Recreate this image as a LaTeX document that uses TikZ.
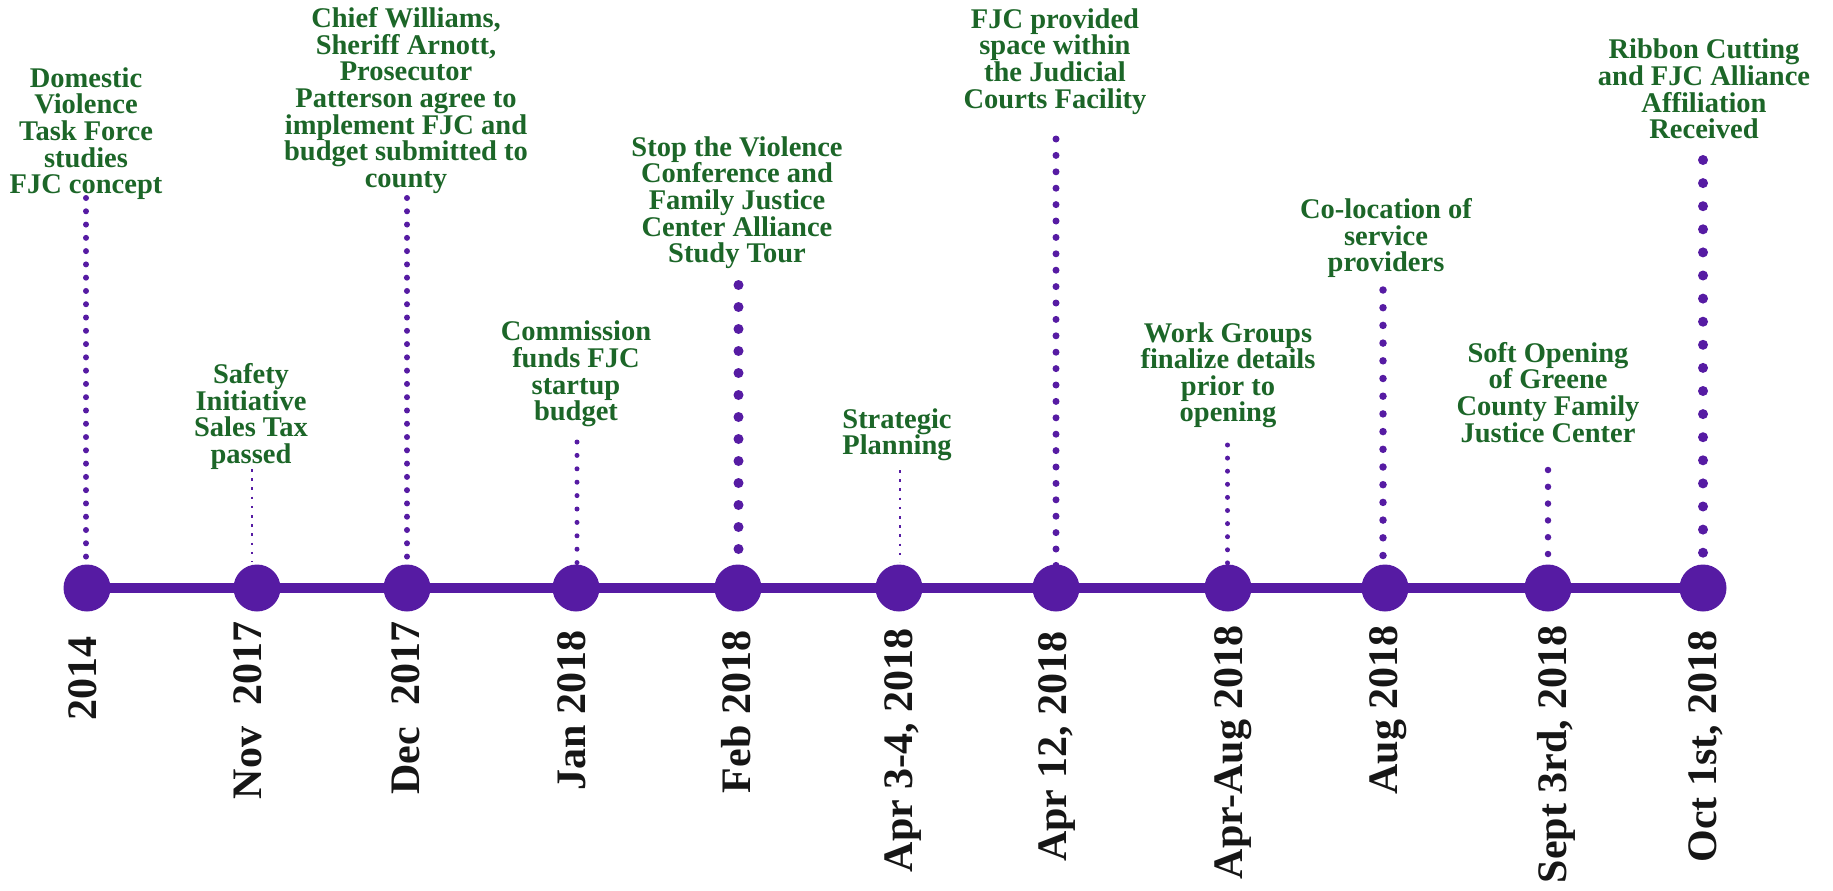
\documentclass[tikz,border=0pt]{standalone}
\usepackage{fontspec}
\setmainfont{Liberation Serif}
\usetikzlibrary{backgrounds}
\definecolor{tlpurple}{RGB}{86,27,163}
\definecolor{tlgreen}{RGB}{28,102,40}
\definecolor{tlblack}{RGB}{22,22,22}
\begin{document}
\begin{tikzpicture}[x=1pt,y=-1pt,
  event/.style={anchor=north, align=center, inner sep=0pt, text=tlgreen,
    font=\fontsize{28.5}{26.6}\selectfont\bfseries},
  datelabel/.style={anchor=base east, rotate=90, inner sep=0pt, text=tlblack,
    font=\fontsize{42}{46}\selectfont\bfseries},
  milestone/.style={circle, fill=tlpurple, minimum size=47pt, inner sep=0pt},
  axisline/.style={draw=tlpurple, line width=10pt},
  dots/.style={draw=tlpurple, line width=#1, line cap=round},
  fine/.style={draw=tlpurple, line width=2pt, dash pattern=on 2.5pt off 6.7pt},
]
\useasboundingbox (0,0) rectangle (1833,891);

% milestones
\node[milestone] (m1) at (87,588) {};
\node[milestone] (m2) at (257,588) {};
\node[milestone] (m3) at (407,588) {};
\node[milestone] (m4) at (576,588) {};
\node[milestone] (m5) at (738,588) {};
\node[milestone] (m6) at (899,588) {};
\node[milestone] (m7) at (1056,588) {};
\node[milestone] (m8) at (1228,588) {};
\node[milestone] (m9) at (1385,588) {};
\node[milestone] (m10) at (1548,588) {};
\node[milestone] (m11) at (1703,588) {};

% dotted stems: end points
\coordinate (t1) at (86,198);   \coordinate (b1) at (86,557.2);
\coordinate (t2) at (251.5,469); \coordinate (b2) at (251.5,562);
\coordinate (t3) at (407,198);  \coordinate (b3) at (407,557.2);
\coordinate (t4) at (577,442);  \coordinate (b4) at (577,563.7);
\coordinate (t5) at (738.5,285); \coordinate (b5) at (738.5,571.1);
\coordinate (t6) at (900,470);  \coordinate (b6) at (900,562);
\coordinate (t7) at (1056,139); \coordinate (b7) at (1056,565.5);
\coordinate (t8) at (1227.5,445); \coordinate (b8) at (1227.5,563);
\coordinate (t9) at (1383,290); \coordinate (b9) at (1383,555.6);
\coordinate (t10) at (1548,470); \coordinate (b10) at (1548,554.1);
\coordinate (t11) at (1703,160); \coordinate (b11) at (1703,552.8);

\begin{scope}[on background layer]
\draw[axisline] (m1.center) -- (m11.center);
\draw[dots=6pt, dash pattern=on 0pt off 13.28pt] (t1) -- (b1);
\draw[fine] (t2) -- (b2);
\draw[dots=6pt, dash pattern=on 0pt off 13.28pt] (t3) -- (b3);
\draw[dots=5pt, dash pattern=on 0pt off 13.4pt] (t4) -- (b4);
\draw[dots=10pt, dash pattern=on 0pt off 22pt] (t5) -- (b5);
\draw[fine] (t6) -- (b6);
\draw[dots=7pt, dash pattern=on 0pt off 16.4pt] (t7) -- (b7);
\draw[dots=5pt, dash pattern=on 0pt off 13.1pt] (t8) -- (b8);
\draw[dots=7.5pt, dash pattern=on 0pt off 17.7pt] (t9) -- (b9);
\draw[dots=6.5pt, dash pattern=on 0pt off 16.8pt] (t10) -- (b10);
\draw[dots=10pt, dash pattern=on 0pt off 23.1pt] (t11) -- (b11);
\end{scope}

% event texts
\node[event] (e1) at (86,67.4) {Domestic\\Violence\\Task Force\\studies\\FJC concept};
\node[event] (e2) at (251,363.4) {Safety\\Initiative\\Sales Tax\\passed};
\node[event] (e3) at (406,7.4) {Chief Williams,\\Sheriff Arnott,\\Prosecutor\\Patterson agree to\\implement FJC and\\budget submitted to\\county};
\node[event] (e4) at (576,321) {Commission\\funds FJC\\startup\\budget};
\node[event] (e5) at (737,136.4) {Stop the Violence\\Conference and\\Family Justice\\Center Alliance\\Study Tour};
\node[event] (e6) at (897,408.4) {Strategic\\Planning};
\node[event] (e7) at (1055,8.4) {FJC provided\\space within\\the Judicial\\Courts Facility};
\node[event] (e8) at (1228,322.1) {Work Groups\\finalize details\\prior to\\opening};
\node[event] (e9) at (1386,198.4) {Co-location of\\service\\providers};
\node[event] (e10) at (1548,342) {Soft Opening\\of Greene\\County Family\\Justice Center};
\node[event] (e11) at (1704,38.9) {Ribbon Cutting\\and FJC Alliance\\Affiliation\\Received};

% dates
\node[datelabel] (d1) at (96.8,636.7) {2014};
\node[datelabel] (d2) at (261.2,621.7) {Nov\ \ 2017};
\node[datelabel] (d3) at (419.6,621.7) {Dec\ \ 2017};
\node[datelabel] (d4) at (585,630) {Jan 2018};
\node[datelabel] (d5) at (750,630.7) {Feb 2018};
\node[datelabel] (d6) at (912.6,628) {Apr 3-4, 2018};
\node[datelabel] (d7) at (1066.6,631.7) {Apr 12, 2018};
\node[datelabel] (d8) at (1242,625) {Apr-Aug 2018};
\node[datelabel] (d9) at (1397,625) {Aug 2018};
\node[datelabel] (d10) at (1566,625) {Sept 3rd, 2018};
\node[datelabel] (d11) at (1716,630) {Oct 1st, 2018};
\end{tikzpicture}
\end{document}
